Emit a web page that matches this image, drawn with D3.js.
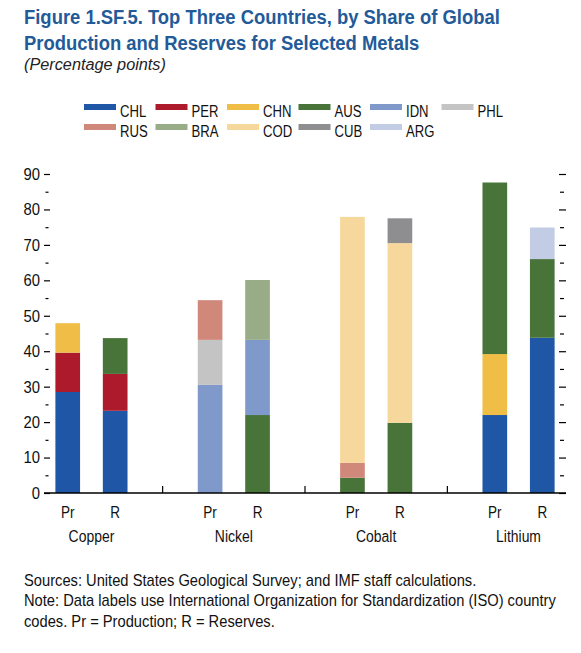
<!DOCTYPE html>
<html>
<head>
<meta charset="utf-8">
<script src="https://cdn.jsdelivr.net/npm/d3@7"></script>
<style>
  html, body { margin: 0; padding: 0; background: #fff; }
  svg { display: block; }
  text { font-family: "Liberation Sans", Arial, "DejaVu Sans Condensed", sans-serif; }
</style>
</head>
<body>
<svg id="chart" width="581" height="653"></svg>
<script>
// ---------- data ----------
const metals = ["Copper", "Nickel", "Cobalt", "Lithium"];
const barTypes = ["Pr", "R"];
// bar order: Copper Pr, Copper R, Nickel Pr, Nickel R, Cobalt Pr, Cobalt R, Lithium Pr, Lithium R
const CHL = [28.5, 23.2, 0, 0, 0, 0, 22.0, 43.8];
const PER = [11.1, 10.4, 0, 0, 0, 0, 0, 0];
const CHN = [8.3, 0, 0, 0, 0, 0, 17.2, 0];
const AUS = [0, 10.1, 0, 22.0, 4.3, 19.8, 48.4, 22.2];
const IDN = [0, 0, 30.5, 21.2, 0, 0, 0, 0];
const PHL = [0, 0, 12.7, 0, 0, 0, 0, 0];
const RUS = [0, 0, 11.2, 0, 4.2, 0, 0, 0];
const BRA = [0, 0, 0, 16.9, 0, 0, 0, 0];
const COD = [0, 0, 0, 0, 69.4, 50.7, 0, 0];
const CUB = [0, 0, 0, 0, 0, 7.0, 0, 0];
const ARG = [0, 0, 0, 0, 0, 0, 0, 8.9];
const legendRow1 = ["CHL", "PER", "CHN", "AUS", "IDN", "PHL"];
const legendRow2 = ["RUS", "BRA", "COD", "CUB", "ARG"];
const stackOrder = ["CHL", "PER", "CHN", "AUS", "IDN", "PHL", "RUS", "BRA", "COD", "CUB", "ARG"];
const yTicks = [0, 10, 20, 30, 40, 50, 60, 70, 80, 90];
const yMinorTicks = [5, 15, 25, 35, 45, 55, 65, 75, 85];

const titleLines = ["Figure 1.SF.5.  Top Three Countries, by Share of Global",
                    "Production and Reserves for Selected Metals"];
const subtitle = "(Percentage points)";
const notes = ["Sources: United States Geological Survey; and IMF staff calculations.",
               "Note: Data labels use International Organization for Standardization (ISO) country",
               "codes. Pr = Production; R = Reserves."];

const seriesData = {CHL, PER, CHN, AUS, IDN, PHL, RUS, BRA, COD, CUB, ARG};
const colors = {
  CHL: "#1f56a5", PER: "#ad1a2b", CHN: "#f0bd46", AUS: "#48743a", IDN: "#8099cb",
  PHL: "#c4c4c4", RUS: "#d0887a", BRA: "#97ac87", COD: "#f6d89d", CUB: "#8e8e91", ARG: "#c3cce5"
};

// ---------- helpers: horizontal condensing about each text's anchor ----------
function squeeze(sel, k) {
  sel.each(function () {
    const x0 = +this.getAttribute("x");
    d3.select(this).attr("transform", `translate(${x0},0) scale(${k},1) translate(${-x0},0)`);
  });
}
function fitTo(sel, refNode, targetWidth) {
  squeeze(sel, targetWidth / refNode.getComputedTextLength());
}

// ---------- build ----------
const bars = [];
metals.forEach(m => barTypes.forEach(t => bars.push({metal: m, type: t, key: m + "|" + t})));
const rows = bars.map((b, i) => {
  const r = {key: b.key, metal: b.metal, type: b.type};
  stackOrder.forEach(c => r[c] = seriesData[c][i]);
  return r;
});
const slots = [];
metals.forEach((m, i) => {
  barTypes.forEach(t => slots.push(m + "|" + t));
  if (i < metals.length - 1) slots.push("gap" + i);
});

const svg = d3.select("#chart");
const plotLeft = 44, plotRight = 566, plotTop = 174, plotBottom = 493;
const narrow = 0.82;

const x = d3.scaleBand().domain(slots).range([plotLeft, plotRight])
  .paddingInner(0.48).paddingOuter(0.24);
const y = d3.scaleLinear().domain([0, 90]).range([plotBottom, plotTop]);

// title
const titleSel = svg.append("g").selectAll("text").data(titleLines).enter().append("text")
  .attr("x", 24).attr("y", (d, i) => 24 + i * 26)
  .attr("font-size", 21).attr("font-weight", "bold").attr("fill", "#235a98").text(d => d);
fitTo(titleSel, titleSel.nodes()[0], 476);
const sub = svg.append("text").attr("x", 24).attr("y", 70).attr("font-size", 16.5)
  .attr("font-style", "italic").attr("fill", "#222").text(subtitle);
fitTo(sub, sub.node(), 142);

// legend
const legend = svg.append("g");
[legendRow1, legendRow2].forEach((row, ri) => {
  row.forEach((c, ci) => {
    const lx = 84 + ci * 71.5;
    const ly = 104 + ri * 20;
    legend.append("rect").attr("x", lx).attr("y", ly).attr("width", 32).attr("height", 6)
      .attr("fill", colors[c]);
    legend.append("text").attr("x", lx + 36).attr("y", ly + 13).attr("font-size", 16)
      .attr("fill", "#111").text(c);
  });
});
squeeze(legend.selectAll("text"), narrow);

// stacked bars
const series = d3.stack().keys(stackOrder)(rows);
const gBars = svg.append("g");
series.forEach(s => {
  gBars.selectAll(null).data(s.filter(d => d[1] - d[0] > 0)).enter().append("rect")
    .attr("x", d => x(d.data.key))
    .attr("width", x.bandwidth())
    .attr("y", d => y(d[1]))
    .attr("height", d => y(d[0]) - y(d[1]))
    .attr("fill", colors[s.key]);
});

// left axis (ticks pointing inward, no domain line)
svg.append("g").attr("transform", `translate(${plotLeft},0)`)
  .call(d3.axisRight(y).tickValues(yTicks).tickSize(6).tickFormat(""))
  .call(g => g.select(".domain").remove())
  .selectAll("line").attr("stroke", "#000").attr("stroke-width", 1.2);
svg.append("g").attr("transform", `translate(${plotLeft + 1.5},0)`)
  .call(d3.axisRight(y).tickValues(yMinorTicks).tickSize(3).tickFormat(""))
  .call(g => g.select(".domain").remove())
  .selectAll("line").attr("stroke", "#000").attr("stroke-width", 1.2);
const yLabels = svg.append("g").selectAll("text").data(yTicks).enter().append("text")
  .attr("x", plotLeft - 4).attr("y", d => y(d)).attr("dy", "0.36em")
  .attr("text-anchor", "end").attr("font-size", 16.5).attr("fill", "#111").text(d => d);
squeeze(yLabels, 0.9);

// right axis
svg.append("g").attr("transform", `translate(${plotRight},0)`)
  .call(d3.axisLeft(y).tickValues(yTicks).tickSize(7).tickFormat(""))
  .call(g => g.select(".domain").remove())
  .selectAll("line").attr("stroke", "#000").attr("stroke-width", 1.2);
svg.append("g").attr("transform", `translate(${plotRight - 2},0)`)
  .call(d3.axisLeft(y).tickValues(yMinorTicks).tickSize(4).tickFormat(""))
  .call(g => g.select(".domain").remove())
  .selectAll("line").attr("stroke", "#000").attr("stroke-width", 1.2);

// x axis baseline
svg.append("line").attr("x1", plotLeft).attr("x2", plotRight)
  .attr("y1", y(0)).attr("y2", y(0)).attr("stroke", "#000").attr("stroke-width", 1.5);
const gaps = slots.filter(s => s.startsWith("gap"));
svg.append("g").selectAll("line").data(gaps).enter().append("line")
  .attr("x1", d => x(d) + x.bandwidth() / 2).attr("x2", d => x(d) + x.bandwidth() / 2)
  .attr("y1", y(0)).attr("y2", y(0) - 7).attr("stroke", "#000").attr("stroke-width", 1.2);

// bar type labels
const typeLabels = svg.append("g").selectAll("text").data(bars).enter().append("text")
  .attr("x", d => x(d.key) + x.bandwidth() / 2).attr("y", 518)
  .attr("text-anchor", "middle").attr("font-size", 16.5).attr("fill", "#111").text(d => d.type);
squeeze(typeLabels, narrow);
// metal labels
const metalLabels = svg.append("g").selectAll("text").data(metals).enter().append("text")
  .attr("x", m => (x(m + "|Pr") + x(m + "|R")) / 2 + x.bandwidth() / 2).attr("y", 542)
  .attr("text-anchor", "middle").attr("font-size", 17).attr("fill", "#111").text(m => m);
squeeze(metalLabels, narrow);

// notes
const noteSel = svg.append("g").selectAll("text").data(notes).enter().append("text")
  .attr("x", 24).attr("y", (d, i) => 586 + i * 20.5).attr("font-size", 16)
  .attr("fill", "#111").text(d => d);
fitTo(noteSel, noteSel.nodes()[1], 532);
</script>
</body>
</html>
